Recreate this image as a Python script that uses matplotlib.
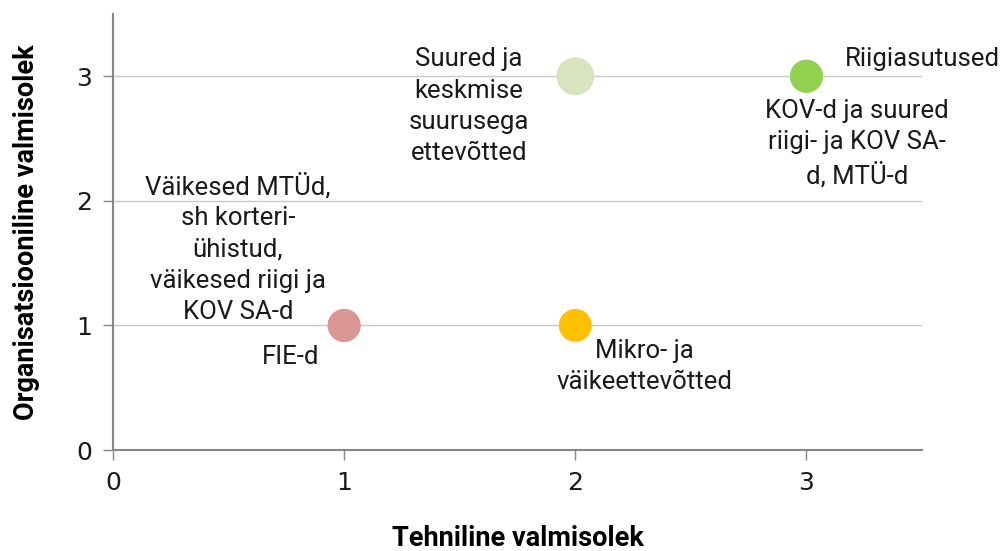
import numpy as np
import matplotlib.pyplot as plt

plt.rcParams['font.family'] = ['Roboto', 'DejaVu Sans']

# Valmisolek: tehniline (x) ja organisatsiooniline (y)
groups = ['Väikesed MTÜd,\nsh korteri-\nühistud,\nväikesed riigi ja\nKOV SA-d',
          'FIE-d',
          'Mikro- ja\nväikeettevõtted',
          'Suured ja\nkeskmise\nsuurusega\nettevõtted',
          'Riigiasutused',
          'KOV-d ja suured\nriigi- ja KOV SA-\nd, MTÜ-d']
tech = [1, 1, 2, 2, 3, 3]
org = [1, 1, 1, 3, 3, 3]

colors = ['#D99694', '#D99694', '#FFC000', '#D7E4BD', '#92D050', '#92D050']
sizes = [560, 560, 560, 740, 560, 560]
# sildi asukoht andmeteljestikus
label_pos = [(0.54, 1.62), (0.77, 0.75), (2.30, 0.67),
             (1.54, 2.76), (3.50, 3.14), (3.22, 2.46)]

fig = plt.figure(figsize=(10.06, 5.51), dpi=100)
ax = fig.add_axes([0.1123, 0.1833, 0.8042, 0.7913])

ax.set_xlim(0, 3.5)
ax.set_ylim(0, 3.5)
ax.set_xticks([0, 1, 2, 3])
ax.set_yticks([0, 1, 2, 3])
ax.grid(axis='y', color='#c8c8c8', linewidth=1)
ax.set_axisbelow(True)

ax.scatter(tech, org, s=sizes, c=colors, linewidths=0, zorder=3)

for name, (lx, ly) in zip(groups, label_pos):
    ax.text(lx, ly, name, ha='center', va='center', fontsize=18.5,
            linespacing=1.38, color='#1a1a1a')

for side in ['top', 'right']:
    ax.spines[side].set_visible(False)
for side in ['left', 'bottom']:
    ax.spines[side].set_color('#868686')
    ax.spines[side].set_linewidth(1.5)
ax.tick_params(direction='out', length=7, width=1, color='#868686',
               labelsize=18, labelcolor='#1a1a1a', pad=8)
for lbl in ax.get_xticklabels() + ax.get_yticklabels():
    lbl.set_family('DejaVu Sans')

ax.set_xlabel('Tehniline valmisolek', fontsize=19.5, fontweight='bold',
              labelpad=22)
ax.set_ylabel('Organisatsiooniline valmisolek', fontsize=19.5,
              fontweight='bold', labelpad=26)

plt.savefig('out.png', dpi=100)
